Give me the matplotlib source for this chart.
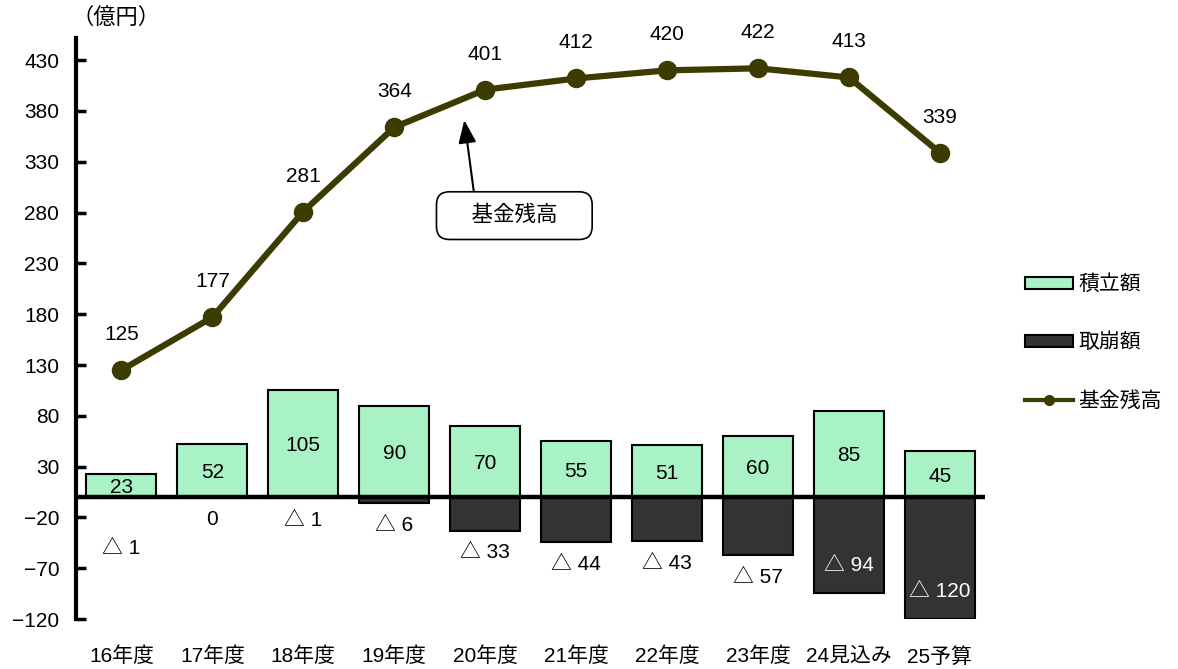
import matplotlib
matplotlib.use("Agg")
import matplotlib.pyplot as plt
from matplotlib.patches import Patch
from matplotlib.lines import Line2D

plt.rcParams['font.family'] = ['Liberation Sans', 'Noto Sans CJK JP', 'DejaVu Sans']

categories = ["16年度", "17年度", "18年度", "19年度", "20年度", "21年度", "22年度", "23年度", "24見込み", "25予算"]
reserve = [23, 52, 105, 90, 70, 55, 51, 60, 85, 45]           # 積立額
withdraw = [-1, 0, -1, -6, -33, -44, -43, -57, -94, -120]      # 取崩額
balance = [125, 177, 281, 364, 401, 412, 420, 422, 413, 339]   # 基金残高
yticks = [430, 380, 330, 280, 230, 180, 130, 80, 30, -20, -70, -120]

green = "#a9f2c5"
dark = "#333333"
olive = "#3c3c00"

fig = plt.figure(figsize=(11.78, 6.69), dpi=100)
ax = fig.add_axes([0.0645, 0.0747, 0.772, 0.868])

x = list(range(len(categories)))
w = 0.77
ax.bar(x, reserve, width=w, color=green, edgecolor="black", linewidth=1.5, zorder=2)
ax.bar(x, withdraw, width=w, color=dark, edgecolor="black", linewidth=1.5, zorder=2)
ax.axhline(0, color="black", linewidth=3.2, zorder=3)
ax.plot(x, balance, color=olive, linewidth=4.5, marker="o", markersize=13,
        markerfacecolor=olive, markeredgecolor=olive, zorder=4)

fs = 15
for i, v in enumerate(reserve):
    ax.text(i, v / 2 - 2, f"{v}", ha="center", va="center", fontsize=fs, zorder=5)

for i, v in enumerate(withdraw):
    label = "0" if v == 0 else f"△ {abs(v)}"
    if v <= -90:
        ax.text(i, v + 27, label, ha="center", va="center", fontsize=fs, color="white", zorder=5)
    else:
        extra = -28 if i == 0 else 0
        ax.text(i, v - 22 + extra, label, ha="center", va="center", fontsize=fs, zorder=5)

for i, v in enumerate(balance):
    ax.text(i, v + 35, f"{v}", ha="center", va="center", fontsize=fs, zorder=5)

ax.annotate("\u3000基金残高\u3000", xy=(3.77, 371), xytext=(4.32, 277), ha="center", va="center",
            fontsize=15.5,
            bbox=dict(boxstyle="round,pad=0.62,rounding_size=0.6", fc="white", ec="black", lw=1.2),
            arrowprops=dict(arrowstyle="-|>,head_length=0.9,head_width=0.35", color="black", lw=1.5,
                            shrinkA=0, shrinkB=0, relpos=(0.2, 1.0)),
            zorder=6)

ax.set_xlim(-0.5, 9.5)
ax.set_ylim(-120, 451.5)
ax.set_yticks(yticks)
ax.set_yticklabels([str(t).replace("-", "−") for t in yticks], fontsize=fs)
ax.set_xticks(x)
ax.set_xticklabels(categories, fontsize=fs)
ax.tick_params(axis="y", direction="in", length=7, width=2.5, pad=12)
ax.tick_params(axis="x", length=0, pad=20)
for s in ["top", "right", "bottom"]:
    ax.spines[s].set_visible(False)
ax.spines["left"].set_linewidth(3)

fig.text(0.0985, 0.972, "（億円）", ha="center", va="center", fontsize=16)

handles = [Patch(facecolor=green, edgecolor="black", linewidth=1.5),
           Patch(facecolor=dark, edgecolor="black", linewidth=1.5),
           Line2D([0], [0], color=olive, linewidth=3, marker="o", markersize=7)]
fig.legend(handles, ["積立額", "取崩額", "基金残高"], loc="center left",
           bbox_to_anchor=(0.8705, 0.488), frameon=False, fontsize=15,
           handlelength=2.3, handleheight=0.55, labelspacing=1.85, handletextpad=0.25,
           borderaxespad=0, borderpad=0)

fig.savefig("out.png", dpi=100)
